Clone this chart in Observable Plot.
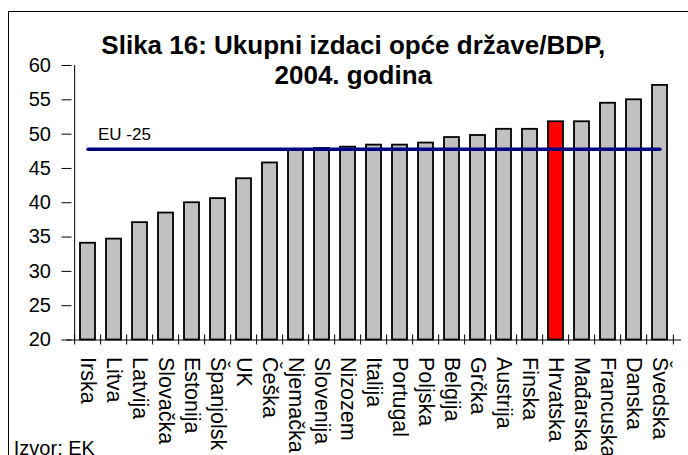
<!DOCTYPE html>
<html><head><meta charset="utf-8">
<script src="https://cdn.jsdelivr.net/npm/d3@7"></script>
<script src="https://cdn.jsdelivr.net/npm/@observablehq/plot@0.6"></script>
<style>
html,body{margin:0;padding:0;background:#fff;overflow:hidden;width:688px;height:455px}
#wrap{position:relative;width:688px;height:455px;overflow:hidden}
#wrap svg{position:absolute;left:0;top:0}
#border{position:absolute;left:8px;top:11px;width:760px;height:520px;border:1.6px solid #000;pointer-events:none}
</style></head><body><div id="wrap"></div>
<script>
const categories = ["Irska","Litva","Latvija","Slovačka","Estonija","Španjolsk","UK","Češka","Njemačka","Slovenija","Nizozem","Italija","Portugal","Poljska","Belgija","Grčka","Austrija","Finska","Hrvatska","Mađarska","Francuska","Danska","Švedska"];
const values = [34.1,34.7,37.1,38.5,40.0,40.6,43.5,45.8,47.6,47.9,48.1,48.4,48.4,48.7,49.5,49.8,50.7,50.7,51.8,51.8,54.5,55.0,57.1];
const highlight = "Hrvatska";
const eu25 = 47.8;
const euLabel = "EU -25";
const yTicks = [20,25,30,35,40,45,50,55,60];
const titleText = "Slika 16: Ukupni izdaci opće države/BDP,\n2004. godina";
const sourceText = "Izvor: EK";

const W = 688, H = 455, mL = 66.5, mR = 7, mT = 65, mB = 115.5;
const step = (W - mL - mR) / categories.length;
const data = categories.map((c, i) => ({c, v: values[i]}));
const font = "'Liberation Sans', Arial, sans-serif";

const chart = Plot.plot({
  width: W, height: H,
  marginLeft: mL, marginRight: mR, marginTop: mT, marginBottom: mB,
  style: {fontFamily: font, background: "transparent", overflow: "visible", color: "#000"},
  x: {domain: categories, paddingInner: 0.42, paddingOuter: 0.21, label: null},
  y: {domain: [20, 60], label: null},
  marks: [
    Plot.barY(data.filter(d => d.c !== highlight), {x: "c", y1: 20, y2: "v", fill: "#c0c0c0", stroke: "#000", strokeWidth: 1.8}),
    Plot.barY(data.filter(d => d.c === highlight), {x: "c", y1: 20, y2: "v", fill: "#ff0000", stroke: "#000", strokeWidth: 1.8}),
    Plot.ruleY([20], {stroke: "#000", strokeWidth: 1}),
    Plot.ruleX([categories[0]], {x: d => d, y1: 20, y2: 60, dx: -step / 2, stroke: "#000", strokeWidth: 1}),
    Plot.axisY(yTicks, {tickSize: 10, dx: 5, tickFormat: () => "", stroke: "#000", label: null}),
    Plot.axisY(yTicks, {tickSize: 0, tickPadding: 16, fontSize: 20, label: null}),
    Plot.axisX(categories, {tickSize: 10, dx: -step / 2, dy: -5, tickFormat: () => "", stroke: "#000", label: null}),
    Plot.axisX([categories[categories.length - 1]], {tickSize: 10, dx: step / 2, dy: -5, tickFormat: () => "", stroke: "#000", label: null}),
    Plot.axisX(categories, {tickSize: 0, tickPadding: 17, tickRotate: 90, fontSize: 21.5, label: null}),
    Plot.line(categories, {x: d => d, y: () => eu25, stroke: "#000080", strokeWidth: 3.5}),
    Plot.text([euLabel], {x: () => categories[0], y: () => eu25, text: d => d, textAnchor: "start", dx: 10, dy: -15, fontSize: 17, fill: "#000"}),
    Plot.text([titleText], {frameAnchor: "top", text: d => d, fontSize: 26, fontWeight: "bold", lineAnchor: "top", lineHeight: 1.12, dx: -21, dy: -31.7, fill: "#000"}),
    Plot.text([sourceText], {frameAnchor: "bottom-left", text: d => d, textAnchor: "start", lineAnchor: "bottom", fontSize: 20, dx: 13.3 - mL, dy: 114.5, fill: "#000"})
  ]
});
const wrap = document.getElementById("wrap");
wrap.appendChild(chart);
const b = document.createElement("div");
b.id = "border";
wrap.appendChild(b);
</script>
</body></html>
